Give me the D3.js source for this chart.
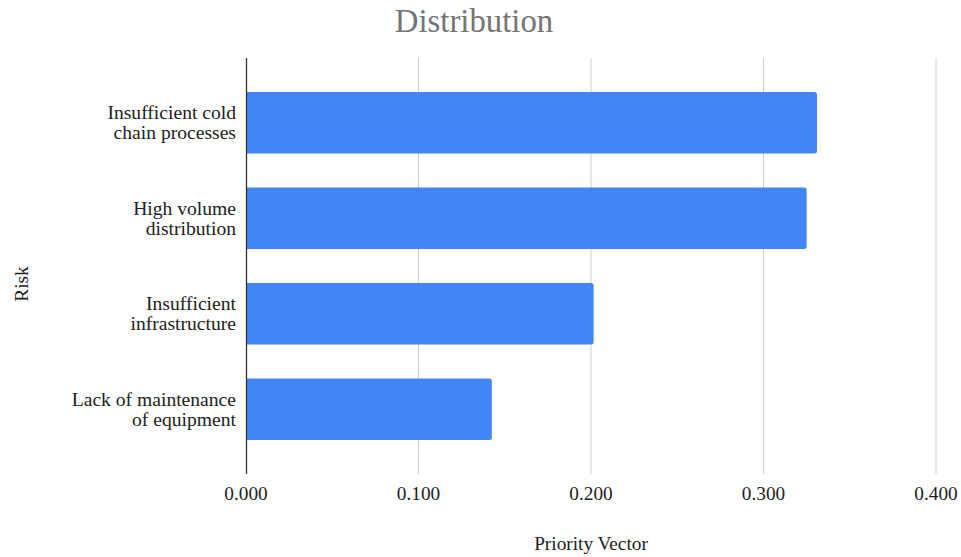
<!DOCTYPE html>
<html>
<head>
<meta charset="utf-8">
<script src="https://cdn.jsdelivr.net/npm/d3@7"></script>
<style>
  body { margin: 0; background: #fff; }
  svg { display: block; font-family: "Liberation Serif", "Times New Roman", serif; }
</style>
</head>
<body>
<svg id="chart" width="961" height="557"></svg>
<script>
"use strict"

const risks = [
    ["Insufficient cold", "chain processes"],
    ["High volume", "distribution"],
    ["Insufficient", "infrastructure"],
    ["Lack of maintenance", "of equipment"]
]
const priority = [0.331, 0.325, 0.2015, 0.1425]
const xTicks = [0, 0.1, 0.2, 0.3, 0.4]

const margin = { top: 58, right: 25, bottom: 83, left: 246 }
const width = 961, height = 557

const svg = d3.select("#chart")

const x = d3.scaleLinear()
    .domain([0, 0.4])
    .range([margin.left, width - margin.right])

const y = d3.scaleBand()
    .domain(d3.range(risks.length))
    .range([margin.top, height - margin.bottom])
    .padding(0.355)

// gridlines
svg.append("g")
    .selectAll("line")
    .data(xTicks.slice(1))
    .join("line")
    .attr("x1", d => x(d)).attr("x2", d => x(d))
    .attr("y1", margin.top).attr("y2", height - margin.bottom)
    .attr("stroke", "#cccccc")
    .attr("stroke-width", 1)

// bars with slightly rounded right end
const r = 2.5
svg.append("g")
    .selectAll("path")
    .data(priority)
    .join("path")
    .attr("fill", "#4285f4")
    .attr("d", (d, i) => {
        const x0 = x(0), x1 = x(d), y0 = y(i), h = y.bandwidth()
        return `M${x0},${y0}H${x1 - r}Q${x1},${y0} ${x1},${y0 + r}V${y0 + h - r}Q${x1},${y0 + h} ${x1 - r},${y0 + h}H${x0}Z`
    })

// baseline axis
svg.append("line")
    .attr("x1", x(0) + 0.5).attr("x2", x(0) + 0.5)
    .attr("y1", margin.top).attr("y2", height - margin.bottom)
    .attr("stroke", "#333333")
    .attr("stroke-width", 1.3)

// x tick labels
svg.append("g")
    .selectAll("text")
    .data(xTicks)
    .join("text")
    .attr("x", d => x(d))
    .attr("y", 500)
    .attr("text-anchor", "middle")
    .attr("font-size", 19.3)
    .attr("fill", "#222222")
    .text(d3.format(".3f"))

// category labels
const cat = svg.append("g")
    .selectAll("text")
    .data(risks)
    .join("text")
    .attr("text-anchor", "end")
    .attr("font-size", 19.6)
    .attr("fill", "#222222")

cat.selectAll("tspan")
    .data((d, i) => d.map((line, j) => ({ line, j, i })))
    .join("tspan")
    .attr("x", 236)
    .attr("y", d => y(d.i) + y.bandwidth() / 2 - 3.5 + d.j * 20)
    .text(d => d.line)

// title
svg.append("text")
    .attr("x", 474)
    .attr("y", 32)
    .attr("text-anchor", "middle")
    .attr("font-size", 32.8)
    .attr("fill", "#757575")
    .text("Distribution")

// axis titles
svg.append("text")
    .attr("x", (x(0) + x(0.4)) / 2)
    .attr("y", 550)
    .attr("text-anchor", "middle")
    .attr("font-size", 19.3)
    .attr("fill", "#222222")
    .text("Priority Vector")

svg.append("text")
    .attr("transform", "translate(28,284) rotate(-90)")
    .attr("text-anchor", "middle")
    .attr("font-size", 19.3)
    .attr("fill", "#222222")
    .text("Risk")
</script>
</body>
</html>
